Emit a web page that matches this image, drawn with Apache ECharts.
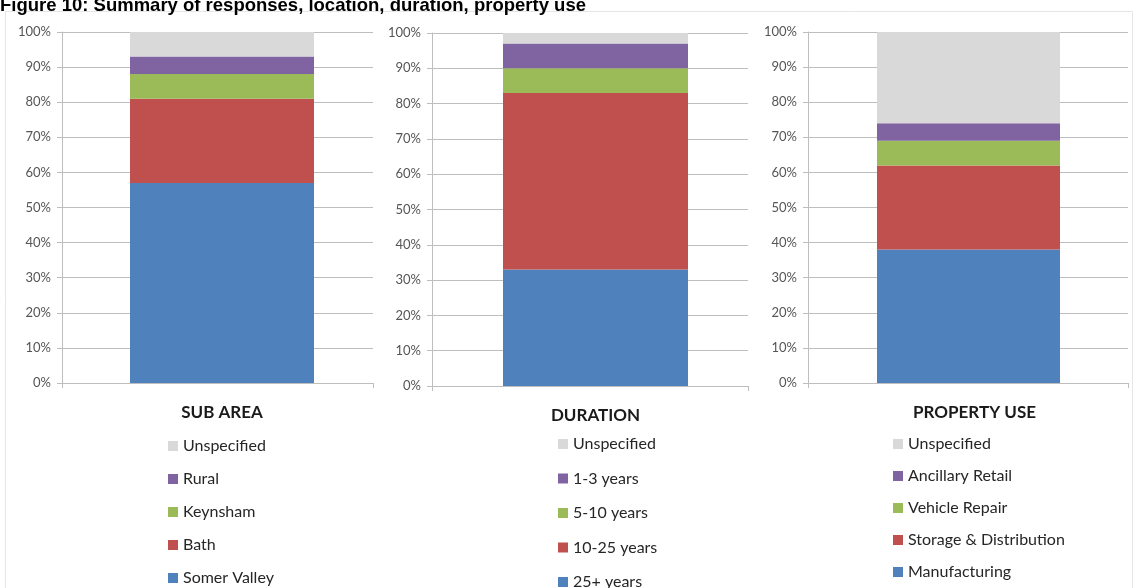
<!DOCTYPE html>
<html>
<head>
<meta charset="utf-8">
<title>Figure 10: Summary of responses, location, duration, property use</title>
<script src="https://cdn.jsdelivr.net/npm/echarts@6/dist/echarts.min.js"></script>
<style>
  html, body { margin: 0; padding: 0; background: #ffffff; }
  #chart { width: 1136px; height: 588px; }
</style>
</head>
<body>
<div id="chart"></div>
<script>
// Share of responses (%) per panel, bottom of the stack first
const subAreaNames = ['Somer Valley', 'Bath', 'Keynsham', 'Rural', 'Unspecified'];
const subAreaValues = [57, 24, 7, 5, 7];

const durationNames = ['25+ years', '10-25 years', '5-10 years', '1-3 years', 'Unspecified'];
const durationValues = [33, 50, 7, 7, 3];

const propertyUseNames = ['Manufacturing', 'Storage & Distribution', 'Vehicle Repair', 'Ancillary Retail', 'Unspecified'];
const propertyUseValues = [38, 24, 7, 5, 26];

const panelTitles = ['SUB AREA', 'DURATION', 'PROPERTY USE'];
const chartTitle = 'Figure 10: Summary of responses, location, duration, property use';

// Office-style palette, same order as the stacks
const stackColors = ['#4F81BD', '#C0504D', '#9BBB59', '#8064A2', '#D9D9D9'];

const panels = [
  { names: subAreaNames, values: subAreaValues },
  { names: durationNames, values: durationValues },
  { names: propertyUseNames, values: propertyUseValues }
];

// Frame of each panel: plot area (gridlines) and the bar column inside it
const plotAreas = [
  { left: 62, width: 311, top: 32, height: 351 },
  { left: 432, width: 316, top: 33, height: 353 },
  { left: 808, width: 320, top: 32, height: 351 }
];
const barColumns = [
  { left: 130, width: 184, labelShift: 0 },
  { left: 503, width: 185, labelShift: 0 },
  { left: 877, width: 183, labelShift: 12 }
];
const legendBoxes = [
  { left: 168, top: 438, itemGap: 17 },
  { left: 558, top: 436, itemGap: 18.5 },
  { left: 893, top: 436, itemGap: 16 }
];

const gridColor = '#BEBEBE';
const labelFont = 'Lato, "Open Sans", sans-serif';

const grids = [];
const xAxes = [];
const yAxes = [];
const series = [];
const legends = [];

plotAreas.forEach(function (p, i) {
  grids.push({ left: p.left, width: p.width, top: p.top, height: p.height });
  xAxes.push({
    type: 'category', gridIndex: i, data: [''],
    axisLine: { show: true, lineStyle: { color: gridColor, width: 1 } },
    axisTick: { show: true, length: 5, lineStyle: { color: gridColor } },
    axisLabel: { show: false }
  });
  yAxes.push({
    type: 'value', gridIndex: i, min: 0, max: 100, interval: 10,
    axisLine: { show: true, lineStyle: { color: gridColor, width: 1 } },
    axisTick: { show: true, length: 5, lineStyle: { color: gridColor } },
    axisLabel: { formatter: '{value}%', margin: 11, color: '#555555', fontFamily: labelFont, fontSize: 13 },
    splitLine: { show: true, lineStyle: { color: gridColor, width: 1 } }
  });
});

barColumns.forEach(function (b, i) {
  const p = plotAreas[i];
  const g = grids.length;
  grids.push({ left: b.left, width: b.width, top: p.top, height: p.height });
  xAxes.push({
    type: 'category', gridIndex: g, data: [panelTitles[i]],
    axisLine: { show: false }, axisTick: { show: false },
    axisLabel: {
      margin: 21, color: '#1a1a1a', fontFamily: labelFont, fontWeight: 'bold', fontSize: 17,
      padding: [0, 0, 0, b.labelShift]
    }
  });
  yAxes.push({ type: 'value', gridIndex: g, min: 0, max: 100, show: false });

  const panel = panels[i];
  panel.names.forEach(function (name, k) {
    series.push({
      name: name, type: 'bar', stack: 'panel' + i,
      xAxisIndex: g, yAxisIndex: g,
      barWidth: '100%',
      data: [panel.values[k]],
      itemStyle: { color: stackColors[k] },
      emphasis: { disabled: true }
    });
  });

  const lb = legendBoxes[i];
  legends.push({
    orient: 'vertical', left: lb.left, top: lb.top, itemGap: lb.itemGap,
    padding: 0, height: 260,
    itemWidth: 10, itemHeight: 10, icon: 'rect', selectedMode: false,
    data: panel.names.slice().reverse(),
    textStyle: { color: '#262626', fontFamily: labelFont, fontSize: 16 }
  });
});

const chart = echarts.init(document.getElementById('chart'), null, { renderer: 'canvas' });
chart.setOption({
  animation: false,
  backgroundColor: '#ffffff',
  title: {
    text: chartTitle, left: 0, top: -4, padding: 0,
    textStyle: { fontFamily: '"Liberation Sans", Arial, sans-serif', fontWeight: 'bold', fontSize: 18.5, color: '#000000' }
  },
  graphic: [{
    type: 'rect', z: -10, silent: true,
    shape: { x: 5.5, y: 11.5, width: 1127, height: 600 },
    style: { fill: 'none', stroke: '#E6E6E6', lineWidth: 1 }
  }],
  grid: grids,
  xAxis: xAxes,
  yAxis: yAxes,
  legend: legends,
  series: series
});
</script>
</body>
</html>
